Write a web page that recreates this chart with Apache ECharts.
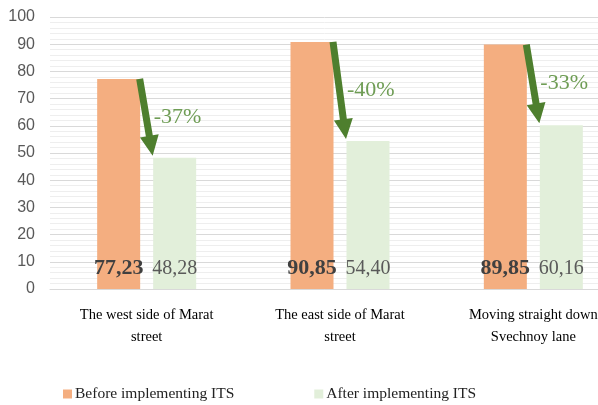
<!DOCTYPE html>
<html>
<head>
<meta charset="utf-8">
<script src="https://cdn.jsdelivr.net/npm/echarts@6/dist/echarts.min.js"></script>
<style>
html,body{margin:0;padding:0;background:#fff;}
#main{width:598px;height:405px;}
</style>
</head>
<body>
<div id="main"></div>
<script>
const categories = ['The west side of Marat\nstreet', 'The east side of Marat\nstreet', 'Moving straight down\nSvechnoy lane'];
const beforeValues = [77.23, 90.85, 89.85];
const afterValues = [48.28, 54.40, 60.16];
const changeLabels = ['-37%', '-40%', '-33%'];
const seriesNames = ['Before implementing ITS', 'After implementing ITS'];
const yTicks = { min: 0, max: 100, interval: 10 };

const fmt = v => v.toFixed(2).replace('.', ',');
const SERIF = '"Liberation Serif", "Times New Roman", serif';
const BAR_W = 43, BAR_GAP_PX = 13;

const chart = echarts.init(document.getElementById('main'));

const arrowData = categories.map((c, i) => [i, beforeValues[i], afterValues[i]]);

function renderArrow(params, api) {
  const i = api.value(0);
  const b = api.value(1);
  const a = api.value(2);
  const label = changeLabels[i];
  const pb = api.coord([i, b]);
  const pa = api.coord([i, a]);
  const cx = pb[0];
  const sx = cx - BAR_GAP_PX / 2 - 0.5;
  const ex = cx + BAR_GAP_PX / 2 - 0.5;
  const sy = pb[1];
  const ey = pa[1] - 2;
  const dx = ex - sx, dy = ey - sy;
  const len = Math.sqrt(dx * dx + dy * dy);
  const ux = dx / len, uy = dy / len;
  const nx = -uy, ny = ux;
  const shaftW = 7, headW = 19, headL = 20;
  const hx = ex - ux * headL, hy = ey - uy * headL;
  const pts = [
    [sx + nx * shaftW / 2, sy + ny * shaftW / 2],
    [hx + nx * shaftW / 2, hy + ny * shaftW / 2],
    [hx + nx * headW / 2, hy + ny * headW / 2],
    [ex, ey],
    [hx - nx * headW / 2, hy - ny * headW / 2],
    [hx - nx * shaftW / 2, hy - ny * shaftW / 2],
    [sx - nx * shaftW / 2, sy - ny * shaftW / 2]
  ];
  const mid = api.coord([i, (a + b) / 2 + 0.5]);
  return {
    type: 'group',
    children: [
      { type: 'polygon', shape: { points: pts }, style: { fill: '#4e7f2e' } },
      { type: 'text', x: ex + 1, y: mid[1], style: { text: label, fill: '#6f9d55', font: '22px ' + SERIF, textAlign: 'left', textVerticalAlign: 'middle' } }
    ]
  };
}

chart.setOption({
  animation: false,
  grid: { left: 50, right: -32, top: 17, bottom: 116, containLabel: false, outerBoundsMode: 'none' },
  legend: {
    left: 63, top: 386, padding: 0,
    itemWidth: 9, itemHeight: 9, itemGap: 80,
    icon: 'rect',
    textStyle: { fontFamily: SERIF, fontSize: 15.5, color: '#222', padding: [0, 0, 0, -2] },
    data: seriesNames
  },
  xAxis: {
    type: 'category',
    data: categories,
    axisLine: { show: true, lineStyle: { color: '#d9d9d9' } },
    axisTick: { show: false },
    axisLabel: { fontFamily: SERIF, fontSize: 14.5, color: '#000', lineHeight: 22, margin: 15, interval: 0 }
  },
  yAxis: {
    type: 'value',
    min: yTicks.min, max: yTicks.max, interval: yTicks.interval,
    axisLabel: { fontFamily: '"Liberation Sans", Arial, sans-serif', fontSize: 16, color: '#595959', margin: 15 },
    splitLine: { lineStyle: { color: '#d9d9d9', width: 1 } },
    minorTick: { show: false, splitNumber: 5 },
    minorSplitLine: { show: true, lineStyle: { color: '#eeeeee', width: 1 } },
    axisLine: { show: false },
    axisTick: { show: false }
  },
  series: [
    {
      name: seriesNames[0], type: 'bar', data: beforeValues,
      barWidth: BAR_W, barGap: (BAR_GAP_PX / BAR_W * 100) + '%',
      itemStyle: { color: '#f4ae80' },
      label: { show: true, position: 'insideBottom', distance: 10, formatter: p => fmt(p.value), fontFamily: SERIF, fontSize: 22, fontWeight: 'bold', color: '#404040' }
    },
    {
      name: seriesNames[1], type: 'bar', data: afterValues,
      barWidth: BAR_W,
      itemStyle: { color: '#e2efda' },
      label: { show: true, position: 'insideBottom', distance: 10, formatter: p => fmt(p.value), fontFamily: SERIF, fontSize: 20, color: '#595959' }
    },
    {
      type: 'custom', renderItem: renderArrow, data: arrowData, z: 10,
      encode: { x: 0, y: [1, 2] }, silent: true
    }
  ]
});
</script>
</body>
</html>
